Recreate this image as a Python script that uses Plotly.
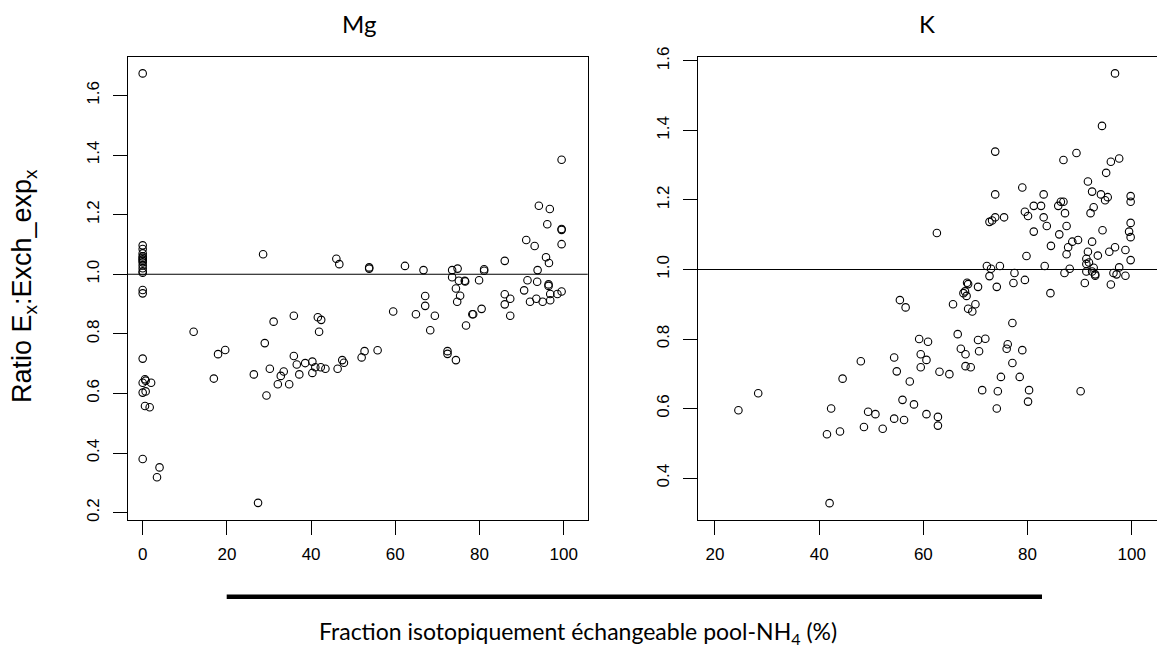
import plotly.graph_objects as go

# ---------------- data ----------------
mg_x = [0, 0, 0, 0, 0, 0, 0, 0, 0, 0, 0, 0, 0, 0, 0, 0, 0.55, 0.7, 0, 2.0, 0, 0.7, 0.55, 1.66, 0, 4.0, 3.4,
        12.1, 16.9, 17.9, 19.6, 27.4, 26.4, 29.0, 29.4, 30.2, 31.1, 32.1, 32.8, 33.5, 34.8, 35.9, 35.9,
        36.6, 37.2, 38.6, 40.3, 40.3, 41.0, 41.6, 42.4, 41.9, 42.3, 43.4, 46.3, 47.4, 47.8, 28.6, 46.0,
        46.7, 53.8, 53.8, 62.3, 66.7, 73.5, 74.8, 81.1, 81.1, 86.0, 91.1, 93.1, 94.1, 96.7, 96.1, 99.5,
        99.5, 99.5, 99.5, 95.8, 96.5, 93.8, 73.5, 75.1, 76.5, 76.6, 79.9, 74.4, 75.4, 74.7, 67.1, 67.1,
        64.9, 69.4, 68.3, 59.5, 55.8, 52.7, 52.0, 72.4, 72.4, 74.4, 76.8, 78.3, 78.5, 80.5, 86.0, 86.0,
        87.3, 87.3, 91.4, 90.6, 92.0, 93.5, 93.7, 96.4, 96.4, 96.8, 95.0, 96.8, 98.5, 99.5]
mg_y = [1.674, 1.097, 1.085, 1.07, 1.06, 1.055, 1.05, 1.045, 1.04, 1.03, 1.02, 1.01, 1.005, 0.947, 0.936,
        0.717, 0.648, 0.643, 0.636, 0.636, 0.603, 0.607, 0.558, 0.554, 0.380, 0.352, 0.319,
        0.807, 0.650, 0.732, 0.746, 0.233, 0.664, 0.769, 0.593, 0.683, 0.841, 0.631, 0.659, 0.674, 0.631,
        0.861, 0.726, 0.697, 0.664, 0.702, 0.707, 0.669, 0.688, 0.856, 0.847, 0.807, 0.688, 0.683, 0.683,
        0.712, 0.703, 1.067, 1.052, 1.034, 1.023, 1.019, 1.028, 1.014, 1.014, 1.019, 1.017, 1.012, 1.045,
        1.115, 1.095, 1.230, 1.219, 1.168, 1.384, 1.152, 1.149, 1.101, 1.057, 1.038, 1.014, 0.990, 0.978,
        0.978, 0.976, 0.980, 0.952, 0.928, 0.908, 0.927, 0.894, 0.866, 0.861, 0.812, 0.875, 0.745, 0.742,
        0.721, 0.742, 0.733, 0.712, 0.828, 0.866, 0.866, 0.884, 0.933, 0.899, 0.918, 0.861, 0.980, 0.946,
        0.908, 0.918, 0.975, 0.966, 0.961, 0.934, 0.908, 0.913, 0.934, 0.942]

k_x = [24.5, 28.3, 42.0, 41.5, 44.0, 42.3, 44.5, 48.0, 48.6, 49.4, 50.8, 52.2, 54.4, 54.9, 55.5, 56.6,
       57.4, 56.0, 58.2, 54.4, 56.3, 59.2, 59.5, 59.5, 60.9, 60.6, 63.1, 65.0, 60.6, 62.8, 62.8, 66.6,
       67.2, 68.1, 68.1, 69.1, 70.5, 71.9, 70.7, 71.3, 74.1, 74.3, 74.9, 76.2, 76.0, 77.1, 77.1, 79.0,
       78.5, 80.3, 80.1, 90.2, 65.7, 67.7, 68.0, 68.4, 68.6, 68.3, 70.0, 68.6, 69.4, 70.5, 74.1, 72.7,
       77.3, 77.5, 79.5, 84.4, 87.1, 91.0, 91.3, 93.0, 93.0, 96.0, 96.5, 97.1, 98.8,
       96.8, 94.3, 73.8, 89.4, 86.9, 97.6, 96.0, 95.1, 91.6, 79.0, 73.8, 83.1, 92.4, 94.1, 95.4, 94.9,
       92.7, 92.1, 99.8, 99.8, 81.2, 82.6, 85.9, 86.4, 86.9, 87.2, 79.5, 80.1, 72.7, 73.2, 73.8, 75.5,
       83.1, 83.7, 87.5, 99.8, 62.6, 81.2, 86.1, 94.4, 99.5, 99.8, 88.6, 89.7, 92.4, 84.5, 87.8, 87.5,
       91.6, 95.7, 96.8, 98.8, 93.5, 91.3, 79.8, 91.3, 91.8, 99.8, 83.3, 72.2, 73.0, 74.7, 88.1, 92.7,
       92.4, 97.6]
k_y = [0.595, 0.644, 0.328, 0.526, 0.534, 0.600, 0.686, 0.736, 0.547, 0.591, 0.584, 0.542, 0.747, 0.707,
       0.912, 0.891, 0.678, 0.625, 0.612, 0.571, 0.567, 0.800, 0.756, 0.719, 0.792, 0.740, 0.706, 0.699,
       0.584, 0.576, 0.551, 0.814, 0.772, 0.756, 0.722, 0.719, 0.797, 0.801, 0.765, 0.653, 0.600, 0.650,
       0.691, 0.785, 0.772, 0.846, 0.731, 0.768, 0.691, 0.653, 0.620, 0.650, 0.900, 0.932, 0.937, 0.962,
       0.958, 0.924, 0.900, 0.887, 0.879, 0.950, 0.950, 0.981, 0.961, 0.990, 0.970, 0.932, 0.990, 0.961,
       0.994, 0.986, 0.982, 0.957, 0.990, 0.986, 0.982,
       1.564, 1.413, 1.339, 1.335, 1.315, 1.319, 1.310, 1.278, 1.253, 1.236, 1.216, 1.216, 1.224, 1.216,
       1.208, 1.199, 1.179, 1.162, 1.211, 1.195, 1.183, 1.183, 1.183, 1.195, 1.195, 1.162, 1.166, 1.154,
       1.137, 1.141, 1.150, 1.150, 1.150, 1.125, 1.125, 1.134, 1.105, 1.109, 1.101, 1.113, 1.109, 1.093,
       1.080, 1.085, 1.080, 1.068, 1.064, 1.044, 1.051, 1.051, 1.064, 1.056, 1.040, 1.031, 1.039, 1.016,
       1.020, 1.027, 1.010, 1.010, 1.002, 1.010, 1.002, 1.005, 0.994, 1.006]

mg_xticks = [0, 20, 40, 60, 80, 100]
k_xticks = [20, 40, 60, 80, 100]
mg_yticks = [0.2, 0.4, 0.6, 0.8, 1.0, 1.2, 1.4, 1.6]
k_yticks = [0.4, 0.6, 0.8, 1.0, 1.2, 1.4, 1.6]
ref_value = 1.0

titles = ["Mg", "K"]
x_title = "Fraction isotopiquement échangeable pool-NH<sub>4</sub> (%)"
y_title = "Ratio E<sub>x</sub>:Exch_exp<sub>x</sub>"

# ---------------- figure ----------------
W, H = 1157, 648
TICKFONT = dict(family="Liberation Sans, Arial, sans-serif", size=17, color="black")
TITLEFONT = dict(family="Lato, Calibri, sans-serif", size=24, color="black")

marker = dict(symbol="circle-open", size=7.5, color="black", line=dict(width=1.1, color="black"))

fig = go.Figure()
fig.add_trace(go.Scatter(x=mg_x, y=mg_y, mode="markers", marker=marker, xaxis="x", yaxis="y",
                         showlegend=False, hoverinfo="x+y"))
fig.add_trace(go.Scatter(x=k_x, y=k_y, mode="markers", marker=marker, xaxis="x2", yaxis="y2",
                         showlegend=False, hoverinfo="x+y"))

def px_x(p):
    return p / W

def px_y(p):
    return 1 - p / H

ydom = [px_y(520), px_y(56.7)]

axis_common = dict(showline=True, linecolor="black", linewidth=1.3, ticks="outside", ticklen=14,
                   tickwidth=1.2, tickcolor="black", showgrid=False, zeroline=False, tickfont=TICKFONT,
                   automargin=False)

fig.update_layout(
    width=W, height=H,
    margin=dict(l=0, r=0, t=0, b=0, pad=0),
    paper_bgcolor="white", plot_bgcolor="white",
    xaxis=dict(domain=[px_x(127.7), px_x(587.7)], range=[-3.56, 105.7], tickvals=mg_xticks,
               anchor="y", mirror=True, ticklabelstandoff=4, **axis_common),
    yaxis=dict(domain=ydom, range=[0.1755, 1.730], tickvals=mg_yticks,
               ticktext=[f"{v:.1f}" for v in mg_yticks], tickangle=-90,
               anchor="x", mirror=True, ticklabelstandoff=7, **axis_common),
    xaxis2=dict(domain=[px_x(698), 1.0], range=[16.74, 104.86], tickvals=k_xticks,
                anchor="y2", mirror=True, ticklabelstandoff=4, **axis_common),
    yaxis2=dict(domain=ydom, range=[0.2795, 1.612], tickvals=k_yticks,
                ticktext=[f"{v:.1f}" for v in k_yticks], tickangle=-90,
                anchor="x2", mirror=False, ticklabelstandoff=7, **axis_common),
)

# reference lines at ratio = 1
for xr, yr in [("x domain", "y"), ("x2 domain", "y2")]:
    fig.add_shape(type="line", xref=xr, yref=yr, x0=0, x1=1, y0=ref_value, y1=ref_value,
                  line=dict(color="black", width=1.2))

# thick bar above x title
fig.add_shape(type="line", xref="paper", yref="paper", x0=px_x(226.7), x1=px_x(1042),
              y0=px_y(596.7), y1=px_y(596.7), line=dict(color="black", width=4.5))

# panel titles
fig.add_annotation(text=titles[0], xref="paper", yref="paper", x=px_x(359), y=px_y(24),
                   showarrow=False, font=TITLEFONT, xanchor="center", yanchor="middle")
fig.add_annotation(text=titles[1], xref="paper", yref="paper", x=px_x(927), y=px_y(24),
                   showarrow=False, font=TITLEFONT, xanchor="center", yanchor="middle")

# axis titles
fig.add_annotation(text=x_title, xref="paper", yref="paper", x=px_x(578), y=px_y(632),
                   showarrow=False, font=dict(family="Lato, Calibri, sans-serif", size=23, color="black"),
                   xanchor="center", yanchor="middle")
fig.add_annotation(text=y_title, xref="paper", yref="paper", x=px_x(24), y=px_y(286),
                   showarrow=False, textangle=-90,
                   font=dict(family="Liberation Sans, Arial, sans-serif", size=27, color="black"),
                   xanchor="center", yanchor="middle")

fig.write_html("out.html", config={"displayModeBar": False},
               post_script="document.body.style.margin='0';document.body.style.overflow='hidden';")
